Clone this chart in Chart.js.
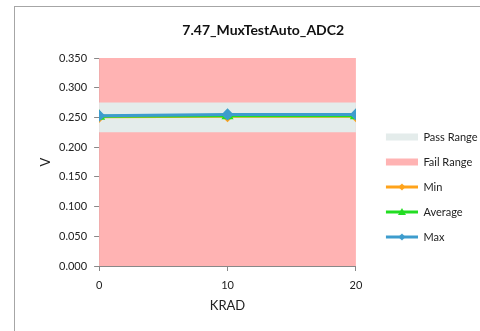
<!DOCTYPE html>
<html>
<head>
<meta charset="utf-8">
<script src="https://cdn.jsdelivr.net/npm/chart.js@4.4.1/dist/chart.umd.min.js"></script>
<style>
  html, body { margin: 0; padding: 0; background: #fff; }
  body { width: 480px; height: 331px; overflow: hidden; position: relative; }
  .frame {
    position: absolute; left: 14px; top: 6px; width: 481px; height: 324px;
    border-left: 1px solid #a6a6a6; border-top: 1px solid #a6a6a6;
  }
  .frame canvas { display: block; }
</style>
</head>
<body>
<div class="frame"><canvas id="chart" width="481" height="324"></canvas></div>
<script>
// data
const krad = [0, 10, 20];
const minV = [0.251, 0.252, 0.252];
const avgV = [0.252, 0.253, 0.253];
const maxV = [0.253, 0.255, 0.255];
const passLow = [0.225, 0.225, 0.225];
const passHigh = [0.275, 0.275, 0.275];
const failTop = [0.35, 0.35, 0.35];
const yTicks = [0, 0.05, 0.1, 0.15, 0.2, 0.25, 0.3, 0.35];

const FONT = "Lato, 'Open Sans', sans-serif";
const PASS = "#e4eceb";
const FAIL = "#ffb3b3";
const ORANGE = "#ffa31a";
const GREEN = "#22dd22";
const BLUE = "#3d9ccd";

const pts = (ys) => krad.map((x, i) => ({ x: x, y: ys[i] }));

// little legend pictures: patch or line with marker
function legendIcon(kind, color) {
  const c = document.createElement("canvas");
  c.width = 48;
  c.height = 10;
  const g = c.getContext("2d");
  if (kind === "patch") {
    g.fillStyle = color;
    g.fillRect(16, 1.5, 32, 7);
    return c;
  }
  g.strokeStyle = color;
  g.lineWidth = 3;
  g.beginPath();
  g.moveTo(16, 5);
  g.lineTo(48, 5);
  g.stroke();
  g.fillStyle = color;
  g.beginPath();
  if (kind === "tri") {
    g.moveTo(32, 1);
    g.lineTo(36, 8);
    g.lineTo(28, 8);
  } else {
    g.moveTo(32, 1.5);
    g.lineTo(35.5, 5);
    g.lineTo(32, 8.5);
    g.lineTo(28.5, 5);
  }
  g.closePath();
  g.fill();
  return c;
}

const legendItems = [
  { text: "Pass Range", icon: legendIcon("patch", PASS), ds: 0 },
  { text: "Fail Range", icon: legendIcon("patch", FAIL), ds: 2 },
  { text: "Min", icon: legendIcon("dia", ORANGE), ds: 3 },
  { text: "Average", icon: legendIcon("tri", GREEN), ds: 4 },
  { text: "Max", icon: legendIcon("dia", BLUE), ds: 5 },
];

const ctx = document.getElementById("chart").getContext("2d");
const myChart = new Chart(ctx, {
  type: "line",
  data: {
    datasets: [
      {
        label: "Pass Range",
        data: pts(passHigh),
        fill: 1,
        backgroundColor: PASS,
        borderColor: "transparent",
        borderWidth: 0,
        pointRadius: 0,
        order: 3,
      },
      {
        label: "pass low",
        data: pts(passLow),
        fill: false,
        borderColor: "transparent",
        borderWidth: 0,
        pointRadius: 0,
        order: 4,
      },
      {
        label: "Fail Range",
        data: pts(failTop),
        fill: "origin",
        backgroundColor: FAIL,
        borderColor: "transparent",
        borderWidth: 0,
        pointRadius: 0,
        order: 5,
      },
      {
        label: "Min",
        data: pts(minV),
        borderColor: ORANGE,
        backgroundColor: ORANGE,
        borderWidth: 3,
        pointStyle: "rectRot",
        pointRadius: 4,
        order: 2,
      },
      {
        label: "Average",
        data: pts(avgV),
        borderColor: GREEN,
        backgroundColor: GREEN,
        borderWidth: 3,
        pointStyle: "triangle",
        pointRadius: 4,
        order: 1,
      },
      {
        label: "Max",
        data: pts(maxV),
        borderColor: BLUE,
        backgroundColor: BLUE,
        borderWidth: 3,
        pointStyle: "rectRot",
        pointRadius: 4,
        order: 0,
      },
    ],
  },
  options: {
    responsive: false,
    animation: false,
    layout: { padding: { left: 24, right: 8.5, bottom: 18.8, top: 0 } },
    scales: {
      x: {
        type: "linear",
        min: 0,
        max: 20,
        ticks: {
          stepSize: 10,
          padding: 7.5,
          color: "#222",
          font: { family: FONT, size: 11 },
        },
        grid: { drawOnChartArea: false, tickLength: 5, color: "#888" },
        border: { color: "#888" },
        title: {
          display: true,
          text: "KRAD",
          color: "#222",
          font: { family: FONT, size: 13, lineHeight: 1 },
          padding: 0,
        },
      },
      y: {
        min: 0,
        max: 0.35,
        afterBuildTicks: (axis) => {
          axis.ticks = yTicks.map((v) => ({ value: v }));
        },
        ticks: {
          padding: 7,
          color: "#222",
          font: { family: FONT, size: 11 },
          callback: (v) => v.toFixed(3),
        },
        grid: { drawOnChartArea: false, tickLength: 5, color: "#888" },
        border: { color: "#888" },
        title: {
          display: true,
          text: "V",
          color: "#222",
          font: { family: FONT, size: 13, lineHeight: 1 },
          padding: 0,
        },
      },
    },
    plugins: {
      filler: { drawTime: "beforeDatasetsDraw" },
      tooltip: { enabled: false },
      title: {
        display: true,
        text: "7.47_MuxTestAuto_ADC2",
        color: "#111",
        font: { family: FONT, size: 14, weight: "bold" },
        padding: { top: 14.6, bottom: 19.6 },
      },
      legend: {
        position: "right",
        align: "start",
        maxWidth: 300,
        title: { display: true, text: " ", padding: { top: 97.3, bottom: 0 }, font: { family: FONT, size: 11 } },
        labels: {
          usePointStyle: true,
          pointStyleWidth: 48,
          padding: 14,
          color: "#222",
          font: { family: FONT, size: 11 },
          generateLabels: () =>
            legendItems.map((it) => ({
              text: it.text,
              pointStyle: it.icon,
              fillStyle: "transparent",
              strokeStyle: "transparent",
              lineWidth: 0,
              hidden: false,
              datasetIndex: it.ds,
              fontColor: "#222",
            })),
        },
      },
    },
  },
});
</script>
</body>
</html>
